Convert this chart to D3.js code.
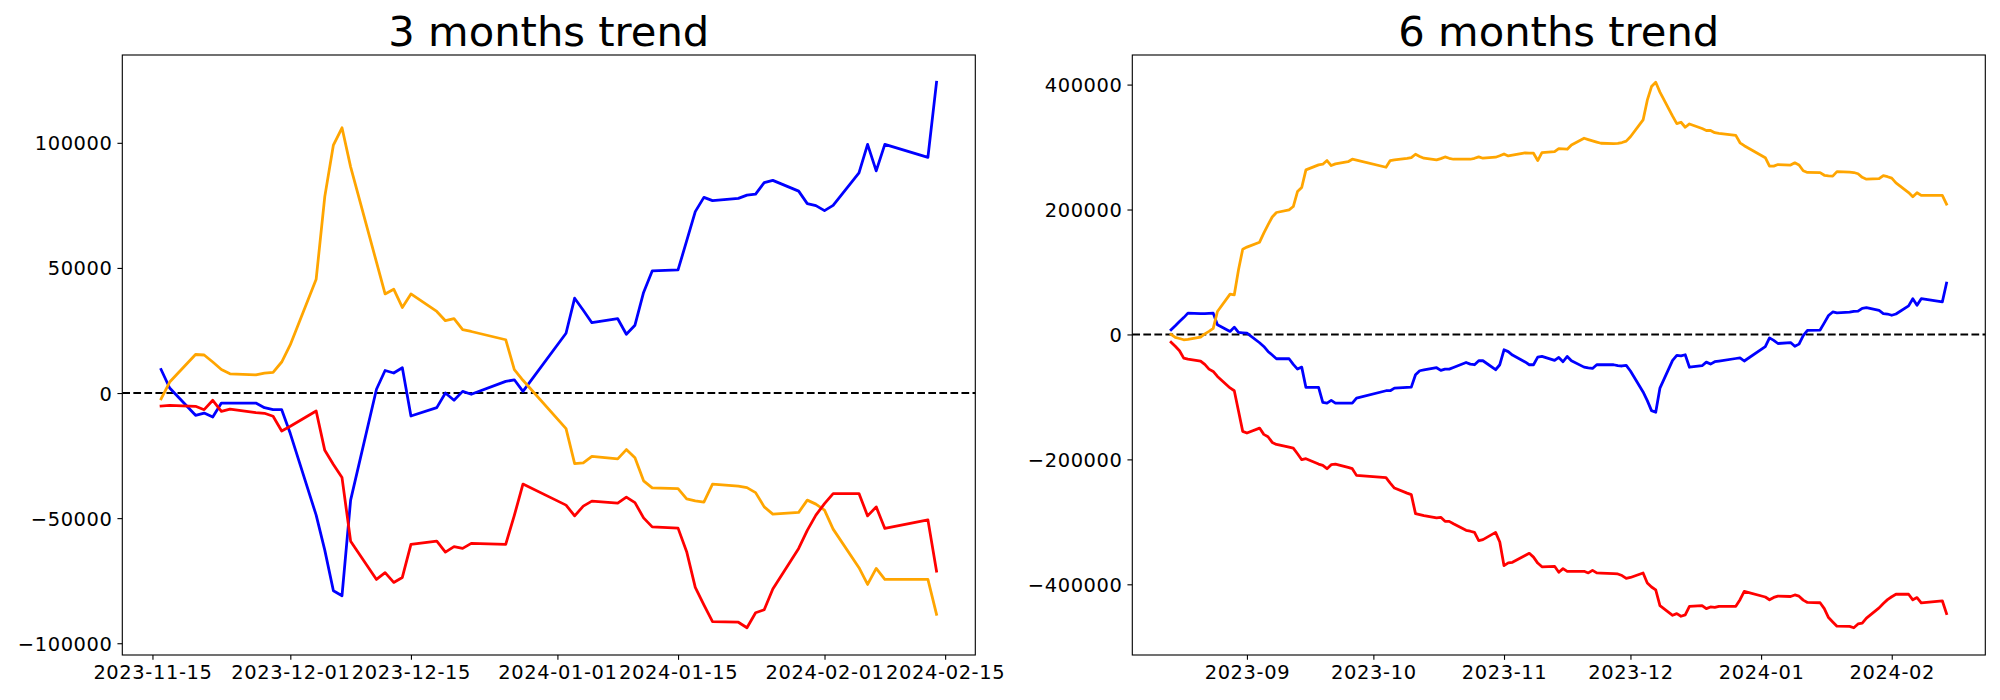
<!DOCTYPE html>
<html>
<head>
<meta charset="utf-8">
<script src="https://cdn.jsdelivr.net/npm/d3@7"></script>
<style>
  body { margin: 0; background: #fff; }
  svg { display: block; }
  text { font-family: "DejaVu Sans", sans-serif; fill: #000; }
</style>
</head>
<body>
<svg id="chart" width="2000" height="700"></svg>
<script>
// ---------------- DATA ----------------
const titles = ["3 months trend", "6 months trend"];
const seriesColors = ["blue", "orange", "red"];

// 3 months panel
const threeMonthDates = [
  "2023-11-16","2023-11-17","2023-11-20","2023-11-21","2023-11-22","2023-11-23","2023-11-24","2023-11-27","2023-11-28","2023-11-29","2023-11-30",
  "2023-12-01","2023-12-04","2023-12-05","2023-12-06","2023-12-07","2023-12-08","2023-12-11","2023-12-12","2023-12-13","2023-12-14","2023-12-15","2023-12-18","2023-12-19","2023-12-20","2023-12-21","2023-12-22","2023-12-26","2023-12-27","2023-12-28",
  "2024-01-02","2024-01-03","2024-01-04","2024-01-05","2024-01-08","2024-01-09","2024-01-10","2024-01-11","2024-01-12","2024-01-15","2024-01-16","2024-01-17","2024-01-18","2024-01-19","2024-01-22","2024-01-23","2024-01-24","2024-01-25","2024-01-26","2024-01-29","2024-01-30","2024-01-31",
  "2024-02-01","2024-02-02","2024-02-05","2024-02-06","2024-02-07","2024-02-08","2024-02-13","2024-02-14"
];
const threeMonthBlue = [
  9400, 2000, -8900, -8000, -9600, -4000, -4000, -4000, -5850, -6650, -6650,
  -16200, -48800, -62800, -79000, -81000, -42800, 1500, 9000, 8000, 10100, -9200, -5850, 0, -2900, 650, -500, 4650, 5300, 650,
  23900, 37900, 33100, 28100, 29700, 23500, 27100, 40200, 48800, 49200, 60800, 72500, 78200, 76900, 77800, 79100, 79500, 84100, 85000, 80700, 75700, 74900,
  72900, 75000, 88000, 99400, 88800, 99400, 94200, 124200
];
const threeMonthOrange = [
  -2300, 4400, 15400, 15200, 12400, 9400, 7700, 7300, 8000, 8250, 12400,
  19300, 45500, 78500, 99100, 106000, 90400, 52300, 39600, 41500, 34200, 39600, 32600, 28900, 29700, 25300, 24600, 21300, 9400, 5100,
  -14200, -28200, -27900, -25300, -26300, -22600, -25900, -35100, -37900, -38200, -42300, -43100, -43600, -36400, -37200, -37800, -39800, -45500, -48400, -47700, -42800, -44400,
  -46800, -54400, -69800, -76500, -70100, -74500, -74500, -88400
];
const threeMonthRed = [
  -5200, -4900, -5300, -6650, -2900, -7300, -6400, -7850, -8100, -9300, -15150,
  -13300, -7200, -22900, -28600, -33800, -59200, -74500, -71800, -75700, -73700, -60500, -59200, -63600, -61400, -62100, -60100, -60500, -48900, -36400,
  -44800, -49100, -45200, -43200, -44000, -41600, -43800, -49900, -53500, -54000, -63400, -77700, -84700, -91400, -91600, -93800, -87800, -86600, -78300, -62100, -54900, -48800,
  -44200, -40200, -40200, -49100, -45500, -54100, -50700, -71200
];
const threeMonthXTicks = ["2023-11-15","2023-12-01","2023-12-15","2024-01-01","2024-01-15","2024-02-01","2024-02-15"];
const threeMonthYTicks = [-100000, -50000, 0, 50000, 100000];

// 6 months panel
const sixMonthDates = [
  "2023-08-14","2023-08-15","2023-08-16","2023-08-17","2023-08-18","2023-08-21","2023-08-22","2023-08-23","2023-08-24","2023-08-25","2023-08-28","2023-08-29","2023-08-30","2023-08-31",
  "2023-09-01","2023-09-04","2023-09-05","2023-09-06","2023-09-07","2023-09-08","2023-09-11","2023-09-12","2023-09-13","2023-09-14","2023-09-15","2023-09-18","2023-09-19","2023-09-20","2023-09-21","2023-09-22","2023-09-25","2023-09-26","2023-09-27",
  "2023-10-04","2023-10-05","2023-10-06","2023-10-09","2023-10-10","2023-10-11","2023-10-12","2023-10-13","2023-10-16","2023-10-17","2023-10-18","2023-10-19","2023-10-20","2023-10-23","2023-10-24","2023-10-25","2023-10-26","2023-10-27","2023-10-30","2023-10-31",
  "2023-11-01","2023-11-02","2023-11-03","2023-11-06","2023-11-07","2023-11-08","2023-11-09","2023-11-10","2023-11-13","2023-11-14","2023-11-15","2023-11-16","2023-11-17","2023-11-20","2023-11-21","2023-11-22","2023-11-23","2023-11-24","2023-11-27","2023-11-28","2023-11-29","2023-11-30",
  "2023-12-01","2023-12-04","2023-12-05","2023-12-06","2023-12-07","2023-12-08","2023-12-11","2023-12-12","2023-12-13","2023-12-14","2023-12-15","2023-12-18","2023-12-19","2023-12-20","2023-12-21","2023-12-22","2023-12-26","2023-12-27","2023-12-28",
  "2024-01-02","2024-01-03","2024-01-04","2024-01-05","2024-01-08","2024-01-09","2024-01-10","2024-01-11","2024-01-12","2024-01-15","2024-01-16","2024-01-17","2024-01-18","2024-01-19","2024-01-22","2024-01-23","2024-01-24","2024-01-25","2024-01-26","2024-01-29","2024-01-30","2024-01-31",
  "2024-02-01","2024-02-02","2024-02-05","2024-02-06","2024-02-07","2024-02-08","2024-02-13","2024-02-14"
];
const sixMonthBlue = [
  7500, 14000, 20800, 27000, 34100, 33500, 33500, 33800, 34100, 15500, 4800, 11700, 3200, 2600,
  2100, -13300, -19200, -27200, -33000, -38900, -38900, -48000, -55500, -52300, -84800, -84800, -108800, -109900, -105600, -109900, -109900, -109900, -101900,
  -90100, -90100, -85900, -84800, -84300, -64500, -58100, -56800, -53300, -57600, -55500, -55500, -52800, -44800, -47500, -48500, -42100, -42100, -56500, -48500,
  -24500, -27500, -33000, -44000, -48500, -48500, -36300, -35200, -41600, -36800, -43700, -35200, -42100, -52300, -53500, -54400, -48500, -48500, -48500, -50000, -50500, -49500,
  -58500, -92000, -106000, -122000, -124500, -85900, -41500, -33500, -34200, -32500, -52500, -50100, -44300, -47500, -43700, -42700, -38500, -37500, -42500,
  -19500, -5500, -9500, -14500, -13000, -19000, -15500, -2000, 6500, 7000, 18500, 30300, 36000, 34700, 35600, 36900, 37300, 41900, 42800, 38500, 33500, 32700,
  30700, 32800, 45800, 57200, 46600, 57200, 52000, 82100
];
const sixMonthOrange = [
  0, -4800, -6500, -8500, -7800, -4300, 1000, 5000, 9600, 36800, 64500, 63500, 103500, 136500,
  139800, 147700, 162300, 175500, 188000, 195200, 199500, 204800, 228800, 235200, 263500, 271400, 272500, 278400, 270400, 273000, 276500, 280500, 279200,
  267700, 278400, 279500, 282000, 283200, 288500, 285000, 282100, 279400, 281500, 284200, 282000, 280500, 280500, 280500, 282000, 284200, 282100, 283700, 286000,
  289000, 285800, 287000, 290600, 290300, 290100, 278400, 291200, 292800, 297600, 297000, 296500, 303400, 314100, 312000, 310000, 308000, 306100, 305600, 306000, 307200, 309500,
  316500, 343400, 375000, 396800, 403700, 388000, 349500, 337500, 339700, 331700, 337000, 329600, 326500, 326600, 323000, 322000, 318800, 306800, 302200,
  283000, 269300, 269500, 272000, 271200, 274700, 271200, 262000, 259300, 259000, 254800, 254000, 253500, 260600, 260000, 259200, 257200, 251500, 248600, 249300, 254100, 252500,
  250200, 242600, 227100, 220500, 226900, 222500, 222500, 208500
];
const sixMonthRed = [
  -12300, -19000, -26100, -37900, -39500, -42600, -48000, -55500, -59200, -67200, -85600, -90100, -122600, -155200,
  -157900, -149900, -160000, -163700, -172800, -176000, -180500, -182000, -191000, -200500, -198900, -207500, -209600, -214900, -208500, -207500, -212800, -214900, -225600,
  -229300, -237900, -245900, -254000, -256500, -286900, -288500, -290000, -293800, -292800, -299200, -299200, -303000, -313600, -315000, -316800, -330100, -328500, -316800, -332200,
  -370100, -365800, -364800, -354000, -350400, -356500, -366000, -372000, -371200, -380800, -374900, -379200, -379200, -379200, -381800, -377600, -381800, -382000, -383000, -383400, -386000, -390400,
  -389000, -381800, -397800, -404300, -409000, -434100, -449600, -446900, -451200, -449000, -435200, -434100, -438900, -436200, -436800, -435200, -435200, -424600, -411200,
  -420300, -424700, -421000, -419000, -419500, -417000, -419000, -425300, -429000, -429500, -439000, -453200, -460200, -467000, -467300, -469500, -463500, -462300, -454000, -437800, -430600, -424500,
  -419900, -415900, -415900, -424800, -421200, -429800, -426400, -446900
];
const sixMonthXTicks = ["2023-09-01","2023-10-01","2023-11-01","2023-12-01","2024-01-01","2024-02-01"];
const sixMonthYTicks = [-400000, -200000, 0, 200000, 400000];

// ---------------- DRAWING ----------------
const svg = d3.select("#chart");
svg.append("rect").attr("width", 2000).attr("height", 700).attr("fill", "#fff");

const parse = d3.utcParse("%Y-%m-%d");
const PT = 100 / 72;                 // px per pt at dpi 100
const TICK_FS = 14 * PT;             // 19.44 px
const TITLE_FS = 30 * PT;            // 41.67 px
const TICK_LEN = 3.5 * PT;
const TICK_PAD = 3.5 * PT;
const TICK_LS = 0.62;                // hinted glyph advance rounding as in the reference
const fmtY = v => (v < 0 ? "\u2212" + Math.abs(v) : String(v));

function drawPanel(cfg) {
  const { left, top, width, height, dates, series, xTicks, xFormat, yTicks, title } = cfg;
  const xs = dates.map(parse);
  const [x0, x1] = d3.extent(xs);
  const xPad = (x1 - x0) * 0.05;
  const x = d3.scaleUtc()
    .domain([new Date(+x0 - xPad), new Date(+x1 + xPad)])
    .range([left, left + width]);
  const all = series.flatMap(s => s.values);
  const [y0, y1] = d3.extent(all);
  const yPad = (y1 - y0) * 0.05;
  const y = d3.scaleLinear().domain([y0 - yPad, y1 + yPad]).range([top + height, top]);

  const g = svg.append("g");

  // zero reference line
  g.append("line")
    .attr("x1", left).attr("x2", left + width)
    .attr("y1", y(0)).attr("y2", y(0))
    .attr("stroke", "#000")
    .attr("stroke-width", 1.5 * PT)
    .attr("stroke-dasharray", `${3.7 * 1.5 * PT},${1.6 * 1.5 * PT}`);

  // series lines
  const line = d3.line().x((d, i) => x(xs[i])).y(d => y(d));
  series.forEach(s => {
    g.append("path")
      .attr("d", line(s.values))
      .attr("fill", "none")
      .attr("stroke", s.color)
      .attr("stroke-width", 2 * PT)
      .attr("stroke-linejoin", "round")
      .attr("stroke-linecap", "square");
  });

  // x axis
  const xAxis = d3.axisBottom(x)
    .tickValues(xTicks.map(parse))
    .tickFormat(d3.utcFormat(xFormat))
    .tickSize(TICK_LEN)
    .tickPadding(5.8);
  const gx = g.append("g").attr("transform", `translate(0,${top + height})`).call(xAxis);
  gx.select(".domain").remove();
  gx.selectAll(".tick line").attr("stroke", "#000").attr("stroke-width", 0.8 * PT);
  gx.selectAll(".tick text")
    .attr("font-family", "DejaVu Sans").attr("font-size", TICK_FS).attr("fill", "#000")
    .attr("letter-spacing", TICK_LS);

  // y axis
  const yAxis = d3.axisLeft(y)
    .tickValues(yTicks)
    .tickFormat(fmtY)
    .tickSize(TICK_LEN)
    .tickPadding(TICK_PAD);
  const gy = g.append("g").attr("transform", `translate(${left},0)`).call(yAxis);
  gy.select(".domain").remove();
  gy.selectAll(".tick line").attr("stroke", "#000").attr("stroke-width", 0.8 * PT);
  gy.selectAll(".tick text")
    .attr("font-family", "DejaVu Sans").attr("font-size", TICK_FS).attr("fill", "#000")
    .attr("letter-spacing", TICK_LS)
    .attr("dy", "0.36em");

  // frame (spines)
  g.append("rect")
    .attr("x", left).attr("y", top).attr("width", width).attr("height", height)
    .attr("fill", "none").attr("stroke", "#000").attr("stroke-width", 0.8 * PT);

  // title
  g.append("text")
    .attr("x", left + width / 2).attr("y", top - 9)
    .attr("text-anchor", "middle")
    .attr("font-size", TITLE_FS)
    .text(title);
}

drawPanel({
  left: 122.3, top: 55, width: 853, height: 600,
  dates: threeMonthDates,
  series: [
    { values: threeMonthBlue, color: seriesColors[0] },
    { values: threeMonthOrange, color: seriesColors[1] },
    { values: threeMonthRed, color: seriesColors[2] }
  ],
  xTicks: threeMonthXTicks, xFormat: "%Y-%m-%d",
  yTicks: threeMonthYTicks, title: titles[0]
});

drawPanel({
  left: 1132.3, top: 55, width: 853, height: 600,
  dates: sixMonthDates,
  series: [
    { values: sixMonthBlue, color: seriesColors[0] },
    { values: sixMonthOrange, color: seriesColors[1] },
    { values: sixMonthRed, color: seriesColors[2] }
  ],
  xTicks: sixMonthXTicks, xFormat: "%Y-%m",
  yTicks: sixMonthYTicks, title: titles[1]
});
</script>
</body>
</html>
